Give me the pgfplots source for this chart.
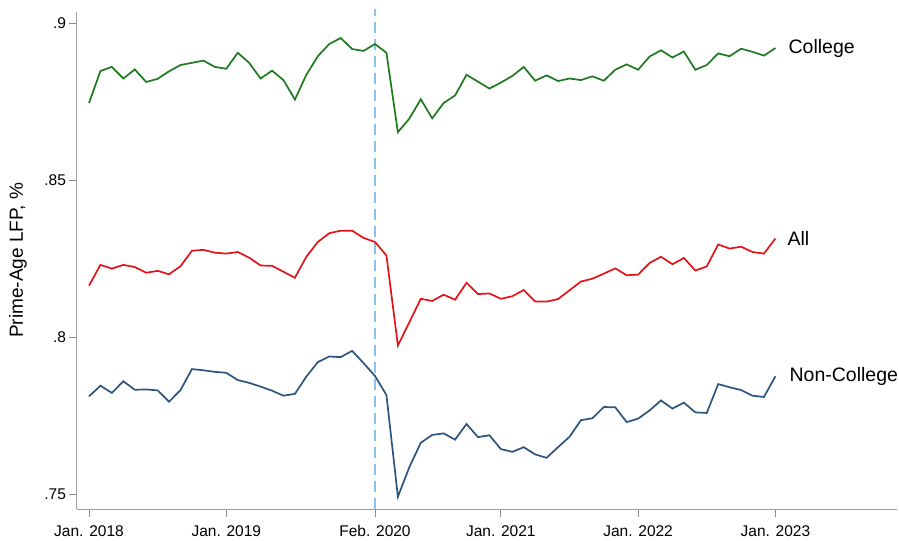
\documentclass[border=0pt]{standalone}
\usepackage{pgfplots}
\pgfplotsset{compat=1.18}
\usetikzlibrary{calc}
\usepackage{fontspec}
\setmainfont{Liberation Sans}
\definecolor{colg}{HTML}{1E7A1E}
\definecolor{allc}{HTML}{E3131A}
\definecolor{ncol}{HTML}{2B557E}
\definecolor{dashc}{HTML}{8AC2EC}
\definecolor{axgray}{HTML}{A0A0A0}
\begin{document}
\begin{tikzpicture}
\begin{axis}[
  name=ax,
  scale only axis,
  width=820pt, height=497.6pt,
  xmin=-1.05, xmax=70.63,
  ymin=0.7452, ymax=0.9038,
  axis x line*=bottom, axis y line*=left,
  axis line style={draw=axgray, line width=1pt, -},
  xtick align=outside, ytick align=outside,
  xtick pos=bottom, ytick pos=left,
  major tick length=7.5pt,
  major tick style={draw=black!45, line width=1pt},
  xtick={0,12,25,36,48,60},
  xticklabels={Jan. 2018,Jan. 2019,Feb. 2020,Jan. 2021,Jan. 2022,Jan. 2023},
  ytick={0.75,0.8,0.85,0.9},
  yticklabels={.75,.8,.85,.9},
  /pgf/number format/assume math mode=true,
  ticklabel style={font=\fontsize{15.5}{18}\selectfont, text=black},
  xticklabel style={yshift=-5pt},
  ylabel={Prime-Age LFP, \%},
  ylabel style={font=\fontsize{19}{22}\selectfont, at={(axis description cs:-0.072,0.5)}, anchor=center},
  clip=false,
]
\addplot[dashc, line width=2.8pt, dash pattern=on 11pt off 6pt, forget plot] coordinates {(25,0.7452) (25,0.9045)};
\addplot[colg, line width=1.7pt] coordinates {
(0,0.8747) (1,0.8849) (2,0.8862) (3,0.8825) (4,0.8854) (5,0.8814) (6,0.8824) (7,0.8848) (8,0.8868) (9,0.8875)
(10,0.8882) (11,0.8862) (12,0.8856) (13,0.8907) (14,0.8875) (15,0.8825) (16,0.8850) (17,0.8820) (18,0.8758) (19,0.8837)
(20,0.8896) (21,0.8935) (22,0.8954) (23,0.8919) (24,0.8913) (25,0.8935) (26,0.8907) (27,0.8654) (28,0.8697) (29,0.8759)
(30,0.8698) (31,0.8747) (32,0.8771) (33,0.8837) (34,0.8815) (35,0.8793) (36,0.8812) (37,0.8833) (38,0.8862) (39,0.8818)
(40,0.8835) (41,0.8817) (42,0.8825) (43,0.8820) (44,0.8832) (45,0.8818) (46,0.8853) (47,0.8870) (48,0.8853) (49,0.8895)
(50,0.8915) (51,0.8892) (52,0.8911) (53,0.8853) (54,0.8868) (55,0.8905) (56,0.8896) (57,0.8920) (58,0.8910) (59,0.8898)
(60,0.8922)};
\addplot[allc, line width=1.7pt] coordinates {
(0,0.8165) (1,0.8231) (2,0.8219) (3,0.8231) (4,0.8224) (5,0.8206) (6,0.8212) (7,0.8201) (8,0.8227) (9,0.8276)
(10,0.8279) (11,0.8270) (12,0.8267) (13,0.8272) (14,0.8254) (15,0.8229) (16,0.8228) (17,0.8209) (18,0.8190) (19,0.8257)
(20,0.8304) (21,0.8332) (22,0.8340) (23,0.8340) (24,0.8317) (25,0.8304) (26,0.8261) (27,0.7974) (28,0.8048) (29,0.8123)
(30,0.8116) (31,0.8136) (32,0.8120) (33,0.8174) (34,0.8138) (35,0.8140) (36,0.8123) (37,0.8131) (38,0.8151) (39,0.8114)
(40,0.8114) (41,0.8122) (42,0.8150) (43,0.8178) (44,0.8187) (45,0.8203) (46,0.8220) (47,0.8198) (48,0.8200) (49,0.8237)
(50,0.8257) (51,0.8233) (52,0.8253) (53,0.8213) (54,0.8226) (55,0.8296) (56,0.8283) (57,0.8289) (58,0.8272) (59,0.8267)
(60,0.8315)};
\addplot[ncol, line width=1.7pt] coordinates {
(0,0.7812) (1,0.7846) (2,0.7823) (3,0.7860) (4,0.7833) (5,0.7834) (6,0.7831) (7,0.7795) (8,0.7832) (9,0.7899)
(10,0.7895) (11,0.7890) (12,0.7887) (13,0.7864) (14,0.7855) (15,0.7843) (16,0.7830) (17,0.7814) (18,0.7820) (19,0.7875)
(20,0.7921) (21,0.7939) (22,0.7937) (23,0.7957) (24,0.7918) (25,0.7877) (26,0.7816) (27,0.7492) (28,0.7586) (29,0.7664)
(30,0.7689) (31,0.7694) (32,0.7674) (33,0.7724) (34,0.7682) (35,0.7688) (36,0.7644) (37,0.7635) (38,0.7650) (39,0.7627)
(40,0.7616) (41,0.7650) (42,0.7683) (43,0.7736) (44,0.7742) (45,0.7778) (46,0.7777) (47,0.7730) (48,0.7741) (49,0.7767)
(50,0.7799) (51,0.7773) (52,0.7792) (53,0.7761) (54,0.7759) (55,0.7851) (56,0.7841) (57,0.7832) (58,0.7814) (59,0.7810)
(60,0.7876)};
\node[anchor=west, inner sep=0pt, xshift=13pt, font=\fontsize{19.5}{22}\selectfont] at (axis cs:60,0.8922) {College};
\node[anchor=west, inner sep=0pt, xshift=12pt, font=\fontsize{19.5}{22}\selectfont] at (axis cs:60,0.8315) {All};
\node[anchor=west, inner sep=0pt, xshift=14pt, font=\fontsize{19.5}{22}\selectfont] at (axis cs:60,0.7876) {Non-College};
\end{axis}
\useasboundingbox ($(ax.south west)+(-77pt,-28.7pt)$) rectangle ($(ax.north east)+(2pt,11.7pt)$);
\end{tikzpicture}
\end{document}
